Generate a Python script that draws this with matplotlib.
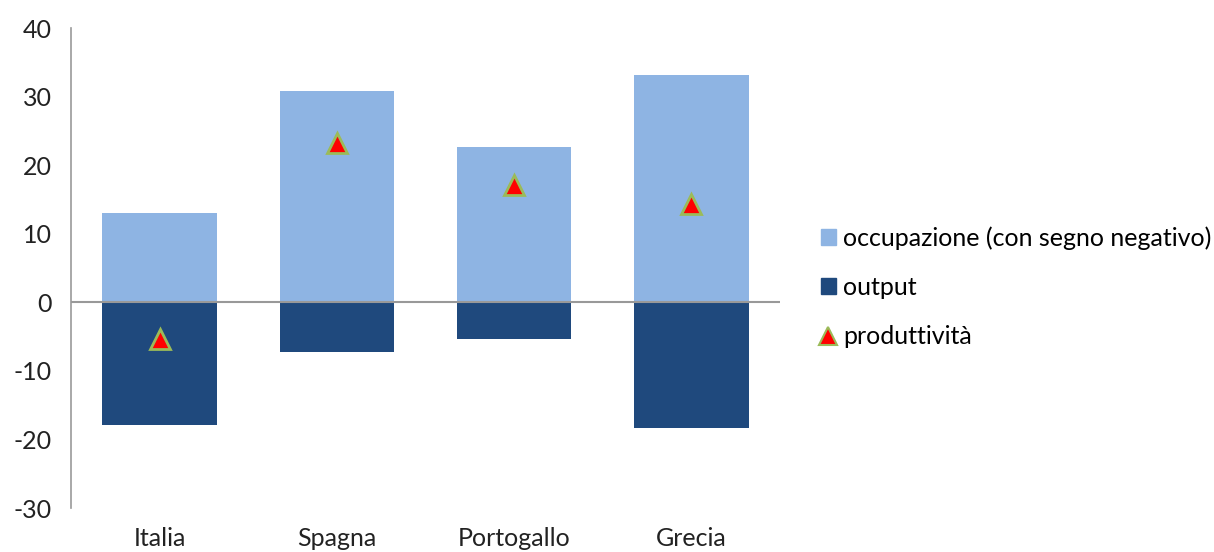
import matplotlib.pyplot as plt
from matplotlib.lines import Line2D
from matplotlib.patches import Patch

plt.rcParams['font.family'] = ['Lato', 'DejaVu Sans']
plt.rcParams['axes.unicode_minus'] = False

# Data
paesi = ['Italia', 'Spagna', 'Portogallo', 'Grecia']
occupazione = [13.0, 30.8, 22.6, 33.1]
output = [-17.9, -7.3, -5.3, -18.4]
produttivita = [-5.4, 23.3, 17.1, 14.4]

light = '#8EB4E3'
dark = '#1F497D'

fig = plt.figure(figsize=(12.14, 5.52), dpi=100)
ax = fig.add_axes([0.0585, 0.0797, 0.584, 0.8693])

x = range(len(paesi))
ax.bar(x, occupazione, width=0.645, color=light, zorder=2)
ax.bar(x, output, width=0.645, color=dark, zorder=2)
ax.axhline(0, color='#999999', lw=1.5, zorder=3)
ax.plot(x, produttivita, ls='none', marker='^', ms=14, mfc='red',
        mec='#9BBB59', mew=2, zorder=4)

ax.set_xlim(-0.5, 3.5)
ax.set_ylim(-30, 40)
ax.set_yticks(range(-30, 41, 10))
ax.set_xticks(list(x))
ax.set_xticklabels(paesi)
ax.tick_params(axis='both', length=0, labelsize=18, colors='#222222')
ax.tick_params(axis='y', pad=14)
ax.tick_params(axis='x', pad=14)
for s in ['top', 'right', 'bottom']:
    ax.spines[s].set_visible(False)
ax.spines['left'].set_color('#999999')
ax.spines['left'].set_linewidth(1.2)

handles = [
    Patch(color=light, label='occupazione (con segno negativo)'),
    Patch(color=dark, label='output'),
    Line2D([], [], ls='none', marker='^', ms=13, mfc='red', mec='#9BBB59',
           mew=1.5, label='produttività'),
]
fig.legend(handles=handles, loc='center left', bbox_to_anchor=(0.668, 0.48),
           frameon=False, fontsize=18, handlelength=0.6, handleheight=0.6,
           handletextpad=0.3, labelspacing=1.05, borderaxespad=0)

fig.savefig('out.png', dpi=100)
